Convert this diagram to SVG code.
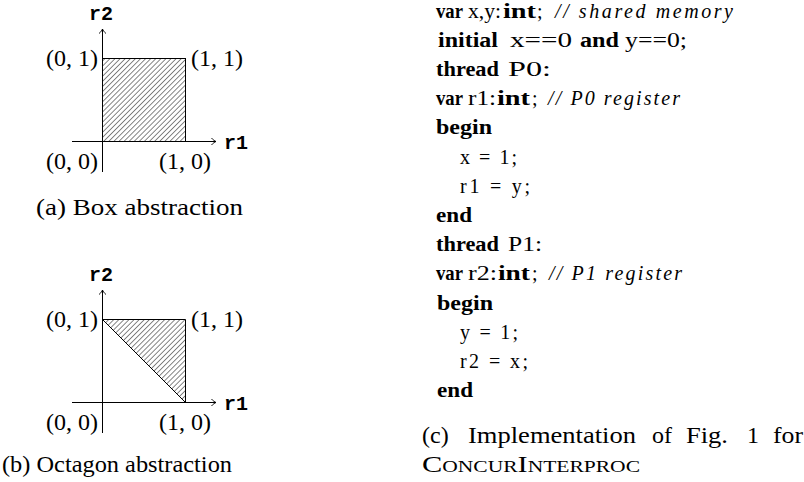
<svg xmlns="http://www.w3.org/2000/svg" width="804" height="482" viewBox="0 0 804 482">
<style>
.lbl{font-family:"Liberation Serif","Times New Roman","DejaVu Serif",serif;font-size:24px;fill:#000}
.cap{font-family:"Liberation Serif","Times New Roman","DejaVu Serif",serif;font-size:24px;fill:#000}
.tt{font-family:"Liberation Mono","Courier New","DejaVu Sans Mono",monospace;font-size:20px;font-weight:bold;fill:#000}
.code{font-family:"Liberation Serif","Times New Roman","DejaVu Serif",serif;font-size:20px;fill:#000}
.b{font-weight:bold}
.i{font-style:italic}
.ax{stroke:#000;stroke-width:1;fill:none}
.reg{stroke:#000;stroke-width:1;fill:url(#hatch)}
</style>
<defs>
<pattern id="hatch" patternUnits="userSpaceOnUse" width="3.6" height="3.6" patternTransform="rotate(45)">
<line x1="0" y1="-1" x2="0" y2="5" stroke="#000" stroke-width="0.95"/>
</pattern>
<marker id="arr" viewBox="-6 -5 8 10" refX="0" refY="0" markerWidth="8" markerHeight="10" markerUnits="userSpaceOnUse" orient="auto">
<path d="M-4.5,-3.5 C-3,-1.5 -1,-0.5 0,0 C-1,0.5 -3,1.5 -4.5,3.5" fill="none" stroke="#000" stroke-width="0.9"/>
</marker>
</defs>
<rect width="804" height="482" fill="#fff"/>

<g id="panel-a">
<rect id="box-region" class="reg" x="102.5" y="58.5" width="83" height="83"/>
<g id="axes-a">
<line class="ax" x1="102.5" y1="172" x2="102.5" y2="29" marker-end="url(#arr)"/>
<line class="ax" x1="72" y1="141.5" x2="216" y2="141.5" marker-end="url(#arr)"/>
</g>
<text class="tt" x="101" y="20" text-anchor="middle">r2</text>
<text class="tt" x="224" y="149">r1</text>
<text class="lbl" x="98" y="66" text-anchor="end">(0, 1)</text>
<text class="lbl" x="191" y="66">(1, 1)</text>
<text class="lbl" x="98" y="169" text-anchor="end">(0, 0)</text>
<text class="lbl" x="159" y="169">(1, 0)</text>
<text class="cap" x="36" y="215" textLength="207" lengthAdjust="spacingAndGlyphs">(a) Box abstraction</text>
</g>

<g id="panel-b">
<polygon id="oct-region" class="reg" points="102.5,319.5 185.5,319.5 185.5,402.5"/>
<g id="axes-b">
<line class="ax" x1="102.5" y1="433" x2="102.5" y2="290" marker-end="url(#arr)"/>
<line class="ax" x1="72" y1="402.5" x2="216" y2="402.5" marker-end="url(#arr)"/>
</g>
<text class="tt" x="101" y="281" text-anchor="middle">r2</text>
<text class="tt" x="224" y="410">r1</text>
<text class="lbl" x="98" y="327" text-anchor="end">(0, 1)</text>
<text class="lbl" x="191" y="327">(1, 1)</text>
<text class="lbl" x="98" y="430" text-anchor="end">(0, 0)</text>
<text class="lbl" x="159" y="430">(1, 0)</text>
<text class="cap" x="2" y="472" textLength="230" lengthAdjust="spacingAndGlyphs">(b) Octagon abstraction</text>
</g>

<g id="panel-c">
<g id="code">
<g>
<text class="code b" x="436" y="17.5" textLength="27" lengthAdjust="spacingAndGlyphs">var</text>
<text class="code" x="468" y="17.5" textLength="33" lengthAdjust="spacingAndGlyphs">x,y:</text>
<text class="code b" x="503" y="17.5" textLength="33" lengthAdjust="spacingAndGlyphs">int</text>
<text class="code" x="537" y="17.5">;</text>
<text class="code i" x="555" y="17.5" textLength="178" lengthAdjust="spacing">// shared memory</text>
</g>
<g>
<text class="code b" x="438" y="46.7" textLength="60" lengthAdjust="spacingAndGlyphs">initial</text>
<text class="code" x="510" y="46.7" textLength="62" lengthAdjust="spacingAndGlyphs">x==0</text>
<text class="code b" x="580" y="46.7" textLength="39" lengthAdjust="spacingAndGlyphs">and</text>
<text class="code" x="625" y="46.7" textLength="62" lengthAdjust="spacingAndGlyphs">y==0;</text>
</g>
<g>
<text class="code b" x="436" y="75.9" textLength="63" lengthAdjust="spacingAndGlyphs">thread</text>
<text class="code" x="508" y="75.9" textLength="43" lengthAdjust="spacingAndGlyphs">P0:</text>
</g>
<g>
<text class="code b" x="436" y="105.1" textLength="27" lengthAdjust="spacingAndGlyphs">var</text>
<text class="code" x="468" y="105.1" textLength="28" lengthAdjust="spacingAndGlyphs">r1:</text>
<text class="code b" x="497" y="105.1" textLength="33" lengthAdjust="spacingAndGlyphs">int</text>
<text class="code" x="532" y="105.1">;</text>
<text class="code i" x="548" y="105.1" textLength="132" lengthAdjust="spacing">// P0 register</text>
</g>
<text class="code b" x="436" y="134.3" textLength="56" lengthAdjust="spacingAndGlyphs">begin</text>
<text class="code" x="460" y="163.5" textLength="57" lengthAdjust="spacing">x = 1;</text>
<text class="code" x="460" y="192.7" textLength="70" lengthAdjust="spacing">r1 = y;</text>
<text class="code b" x="436" y="221.9" textLength="36" lengthAdjust="spacingAndGlyphs">end</text>
<g>
<text class="code b" x="436" y="251.1" textLength="63" lengthAdjust="spacingAndGlyphs">thread</text>
<text class="code" x="508" y="251.1" textLength="34" lengthAdjust="spacingAndGlyphs">P1:</text>
</g>
<g>
<text class="code b" x="436" y="280.3" textLength="27" lengthAdjust="spacingAndGlyphs">var</text>
<text class="code" x="468" y="280.3" textLength="29" lengthAdjust="spacingAndGlyphs">r2:</text>
<text class="code b" x="498" y="280.3" textLength="32" lengthAdjust="spacingAndGlyphs">int</text>
<text class="code" x="532" y="280.3">;</text>
<text class="code i" x="549" y="280.3" textLength="133" lengthAdjust="spacing">// P1 register</text>
</g>
<text class="code b" x="437" y="309.5" textLength="56" lengthAdjust="spacingAndGlyphs">begin</text>
<text class="code" x="460" y="338.7" textLength="58" lengthAdjust="spacing">y = 1;</text>
<text class="code" x="460" y="367.9" textLength="68" lengthAdjust="spacing">r2 = x;</text>
<text class="code b" x="437" y="397.1" textLength="36" lengthAdjust="spacingAndGlyphs">end</text>
</g>
<text class="cap" y="443"><tspan x="422">(c)</tspan><tspan x="468" textLength="168" lengthAdjust="spacingAndGlyphs">Implementation</tspan><tspan x="652">of</tspan><tspan x="686" textLength="42" lengthAdjust="spacingAndGlyphs">Fig.</tspan><tspan x="747">1</tspan><tspan x="773" textLength="30" lengthAdjust="spacingAndGlyphs">for</tspan></text>
<text class="cap" x="422" y="472" textLength="218" lengthAdjust="spacingAndGlyphs" style="font-variant:small-caps">ConcurInterproc</text>
</g>
</svg>
